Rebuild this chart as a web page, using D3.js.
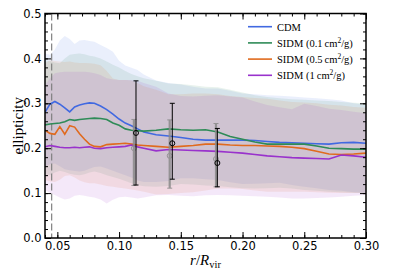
<!DOCTYPE html>
<html>
<head>
<meta charset="utf-8">
<script src="https://cdn.jsdelivr.net/npm/d3@7"></script>
<style>
  body { margin: 0; background: #fff; }
  svg { display: block; }
  .tick text { font-family: "DejaVu Sans", sans-serif; font-size: 11.5px; fill: #000; }
  .serif { font-family: "Liberation Serif", "DejaVu Serif", serif; fill: #000; }
</style>
</head>
<body>
<div id="chart"></div>
<script>
const width = 407;
const height = 271;
const MARGIN = { top: 13.5, right: 41, bottom: 33, left: 45 };

// radial bins r/Rvir
const radius = [0.040, 0.044, 0.048, 0.052, 0.056, 0.060, 0.064, 0.068, 0.072, 0.076,
  0.080, 0.085, 0.090, 0.095, 0.100, 0.105, 0.110, 0.115, 0.120, 0.130,
  0.140, 0.150, 0.160, 0.170, 0.180, 0.190, 0.200, 0.210, 0.220, 0.230,
  0.240, 0.250, 0.260, 0.270, 0.280, 0.290, 0.300];

// median ellipticity
const cdmMean = [0.280, 0.298, 0.304, 0.298, 0.290, 0.281, 0.292, 0.296, 0.299, 0.301,
  0.300, 0.294, 0.286, 0.276, 0.265, 0.256, 0.250, 0.243, 0.236, 0.230,
  0.227, 0.224, 0.220, 0.218, 0.218, 0.218, 0.218, 0.217, 0.215, 0.213,
  0.212, 0.211, 0.210, 0.209, 0.212, 0.213, 0.211];
const sidm01Mean = [0.252, 0.254, 0.255, 0.256, 0.259, 0.264, 0.262, 0.264, 0.265, 0.266,
  0.267, 0.266, 0.264, 0.256, 0.251, 0.243, 0.240, 0.239, 0.238, 0.240,
  0.243, 0.241, 0.240, 0.241, 0.236, 0.226, 0.220, 0.214, 0.209, 0.209,
  0.209, 0.209, 0.205, 0.200, 0.199, 0.198, 0.198];
const sidm05Mean = [0.240, 0.233, 0.231, 0.248, 0.231, 0.250, 0.247, 0.232, 0.220, 0.209,
  0.204, 0.203, 0.208, 0.209, 0.210, 0.211, 0.209, 0.207, 0.206, 0.204,
  0.202, 0.204, 0.206, 0.209, 0.209, 0.207, 0.206, 0.206, 0.205, 0.204,
  0.202, 0.199, 0.193, 0.187, 0.186, 0.187, 0.189];
const sidm1Mean = [0.203, 0.206, 0.204, 0.202, 0.201, 0.201, 0.202, 0.201, 0.202, 0.203,
  0.200, 0.199, 0.201, 0.202, 0.203, 0.204, 0.207, 0.203, 0.200, 0.194,
  0.197, 0.196, 0.195, 0.194, 0.193, 0.191, 0.189, 0.186, 0.183, 0.181,
  0.179, 0.178, 0.177, 0.176, 0.185, 0.183, 0.180];

// scatter envelopes
const cdmHi = [0.411, 0.408, 0.420, 0.440, 0.450, 0.443, 0.432, 0.440, 0.441, 0.439,
  0.437, 0.430, 0.423, 0.415, 0.395, 0.384, 0.379, 0.374, 0.364, 0.351,
  0.345, 0.342, 0.337, 0.333, 0.333, 0.328, 0.322, 0.320, 0.318, 0.317,
  0.315, 0.313, 0.311, 0.309, 0.306, 0.300, 0.296];
const cdmLo = [0.159, 0.164, 0.166, 0.160, 0.153, 0.151, 0.149, 0.148, 0.150, 0.154,
  0.158, 0.159, 0.155, 0.150, 0.145, 0.140, 0.135, 0.128, 0.125, 0.125,
  0.127, 0.133, 0.133, 0.131, 0.129, 0.124, 0.120, 0.121, 0.122, 0.123,
  0.118, 0.114, 0.111, 0.107, 0.105, 0.102, 0.100];
const sidm01Hi = [0.396, 0.394, 0.391, 0.389, 0.400, 0.408, 0.410, 0.411, 0.409, 0.406,
  0.404, 0.400, 0.393, 0.386, 0.380, 0.372, 0.365, 0.360, 0.356, 0.350,
  0.344, 0.343, 0.340, 0.337, 0.336, 0.330, 0.324, 0.318, 0.314, 0.311,
  0.309, 0.308, 0.306, 0.305, 0.303, 0.301, 0.300];
const sidm01Lo = [0.142, 0.140, 0.146, 0.150, 0.147, 0.143, 0.141, 0.140, 0.142, 0.146,
  0.148, 0.145, 0.140, 0.136, 0.132, 0.127, 0.122, 0.118, 0.115, 0.114,
  0.116, 0.120, 0.119, 0.117, 0.116, 0.113, 0.111, 0.110, 0.111, 0.112,
  0.110, 0.107, 0.105, 0.103, 0.102, 0.101, 0.100];
const sidm05Hi = [0.390, 0.396, 0.394, 0.393, 0.392, 0.393, 0.391, 0.390, 0.390, 0.389,
  0.388, 0.385, 0.372, 0.355, 0.352, 0.352, 0.351, 0.345, 0.338, 0.330,
  0.320, 0.320, 0.322, 0.322, 0.320, 0.316, 0.314, 0.312, 0.310, 0.306,
  0.303, 0.302, 0.300, 0.297, 0.295, 0.292, 0.290];
const sidm05Lo = [0.129, 0.126, 0.125, 0.130, 0.138, 0.140, 0.135, 0.128, 0.124, 0.122,
  0.122, 0.119, 0.116, 0.114, 0.112, 0.110, 0.108, 0.106, 0.103, 0.097,
  0.098, 0.100, 0.102, 0.106, 0.110, 0.110, 0.109, 0.106, 0.103, 0.103,
  0.103, 0.103, 0.102, 0.101, 0.100, 0.100, 0.100];
const sidm1Hi = [0.341, 0.355, 0.367, 0.369, 0.370, 0.370, 0.370, 0.370, 0.370, 0.369,
  0.367, 0.363, 0.356, 0.353, 0.352, 0.352, 0.352, 0.350, 0.345, 0.337,
  0.322, 0.316, 0.315, 0.317, 0.318, 0.315, 0.313, 0.304, 0.296, 0.291,
  0.287, 0.299, 0.294, 0.288, 0.285, 0.281, 0.278];
const sidm1Lo = [0.107, 0.100, 0.096, 0.090, 0.086, 0.088, 0.094, 0.096, 0.094, 0.092,
  0.090, 0.086, 0.077, 0.085, 0.091, 0.092, 0.090, 0.088, 0.090, 0.095,
  0.096, 0.094, 0.093, 0.095, 0.096, 0.095, 0.094, 0.093, 0.092, 0.090,
  0.088, 0.088, 0.089, 0.090, 0.092, 0.094, 0.096];

const labels = ['CDM', 'SIDM (0.1', 'SIDM (0.5', 'SIDM (1'];
const colors = ['#4169e1', '#2e8b57', '#e06a1e', '#9932cc'];

// observed points (black) and comparison (gray)
const obsX = [0.1137, 0.1431, 0.1796];
const obsY = [0.234, 0.211, 0.167];
const obsLo = [0.118, 0.131, 0.114];
const obsHi = [0.350, 0.300, 0.244];
const cmpX = [0.1120, 0.1410, 0.1785];
const cmpY = [0.200, 0.183, 0.176];
const cmpLo = [0.117, 0.111, 0.114];
const cmpHi = [0.264, 0.263, 0.255];

const resolutionLimit = 0.0454;

const series = [
  { mean: cdmMean, lo: cdmLo, hi: cdmHi },
  { mean: sidm01Mean, lo: sidm01Lo, hi: sidm01Hi },
  { mean: sidm05Mean, lo: sidm05Lo, hi: sidm05Hi },
  { mean: sidm1Mean, lo: sidm1Lo, hi: sidm1Hi }
];

const w = width - MARGIN.left - MARGIN.right;
const h = height - MARGIN.top - MARGIN.bottom;

const svg = d3.select('#chart').append('svg')
  .attr('width', width)
  .attr('height', height);

const g = svg.append('g')
  .attr('transform', 'translate(' + MARGIN.left + ',' + MARGIN.top + ')');

const x = d3.scaleLinear().domain([0.04, 0.30]).range([0, w]);
const y = d3.scaleLinear().domain([0, 0.5]).range([h, 0]);

g.append('clipPath').attr('id', 'clip')
  .append('rect').attr('width', w).attr('height', h);

const plot = g.append('g').attr('clip-path', 'url(#clip)');

// bands
const area = (s) => d3.area()
  .x((d, i) => x(radius[i]))
  .y0((d, i) => y(s.lo[i]))
  .y1((d, i) => y(s.hi[i]));

series.forEach((s, k) => {
  plot.append('path')
    .datum(radius)
    .attr('d', area(s))
    .attr('fill', colors[k])
    .attr('fill-opacity', 0.11);
});

// dashed resolution line
plot.append('line')
  .attr('x1', x(resolutionLimit)).attr('x2', x(resolutionLimit))
  .attr('y1', 0).attr('y2', h)
  .attr('stroke', '#808080')
  .attr('stroke-width', 1.2)
  .attr('stroke-dasharray', '7,3');

// median lines
series.forEach((s, k) => {
  plot.append('path')
    .datum(s.mean)
    .attr('d', d3.line().x((d, i) => x(radius[i])).y((d) => y(d)))
    .attr('fill', 'none')
    .attr('stroke', colors[k])
    .attr('stroke-width', 1.6);
});

// error bars
function errorBars(xs, ys, lo, hi, color, sw, opacity) {
  const eg = plot.append('g').attr('opacity', opacity);
  xs.forEach((xv, i) => {
    eg.append('line')
      .attr('x1', x(xv)).attr('x2', x(xv))
      .attr('y1', y(lo[i])).attr('y2', y(hi[i]))
      .attr('stroke', color).attr('stroke-width', sw);
    [lo[i], hi[i]].forEach((v) => {
      eg.append('line')
        .attr('x1', x(xv) - 2.5).attr('x2', x(xv) + 2.5)
        .attr('y1', y(v)).attr('y2', y(v))
        .attr('stroke', color).attr('stroke-width', 1);
    });
    eg.append('circle')
      .attr('cx', x(xv)).attr('cy', y(ys[i]))
      .attr('r', 2.5)
      .attr('fill', 'none')
      .attr('stroke', color).attr('stroke-width', 1);
  });
}
errorBars(cmpX, cmpY, cmpLo, cmpHi, '#8a8a8a', 2.2, 0.85);
errorBars(obsX, obsY, obsLo, obsHi, '#000', 1, 1);

// axes with inward ticks on all sides
const majorX = d3.range(0.05, 0.3001, 0.05);
const minorX = d3.range(0.04, 0.3001, 0.01);
const majorY = d3.range(0, 0.5001, 0.1);
const minorY = d3.range(0, 0.5001, 0.02);

g.append('g')
  .attr('class', 'x axis')
  .attr('transform', 'translate(0,' + h + ')')
  .call(d3.axisBottom(x).tickValues(majorX).tickSize(-6).tickPadding(4).tickFormat(d3.format('.2f')))
  .call((a) => a.select('.domain').remove());
g.append('g')
  .attr('transform', 'translate(0,' + h + ')')
  .call(d3.axisBottom(x).tickValues(minorX).tickSize(-3).tickFormat(''))
  .call((a) => a.select('.domain').remove());
g.append('g')
  .call(d3.axisTop(x).tickValues(majorX).tickSize(-6).tickFormat(''))
  .call((a) => a.select('.domain').remove());
g.append('g')
  .call(d3.axisTop(x).tickValues(minorX).tickSize(-3).tickFormat(''))
  .call((a) => a.select('.domain').remove());

g.append('g')
  .attr('class', 'y axis')
  .call(d3.axisLeft(y).tickValues(majorY).tickSize(-6).tickPadding(3.5).tickFormat(d3.format('.1f')))
  .call((a) => a.select('.domain').remove());
g.append('g')
  .call(d3.axisLeft(y).tickValues(minorY).tickSize(-3).tickFormat(''))
  .call((a) => a.select('.domain').remove());
g.append('g')
  .attr('transform', 'translate(' + w + ',0)')
  .call(d3.axisRight(y).tickValues(majorY).tickSize(-6).tickFormat(''))
  .call((a) => a.select('.domain').remove());
g.append('g')
  .attr('transform', 'translate(' + w + ',0)')
  .call(d3.axisRight(y).tickValues(minorY).tickSize(-3).tickFormat(''))
  .call((a) => a.select('.domain').remove());

g.selectAll('.tick line').attr('stroke', '#000').attr('stroke-width', 1);

g.append('rect')
  .attr('width', w).attr('height', h)
  .attr('fill', 'none')
  .attr('stroke', '#000')
  .attr('stroke-width', 1.5);

// axis labels
svg.append('text')
  .attr('class', 'serif')
  .attr('transform', 'translate(23,' + (MARGIN.top + h / 2) + ') rotate(-90)')
  .attr('text-anchor', 'middle')
  .style('font-size', '15px')
  .text('ellipticity');

const xl = svg.append('text')
  .attr('class', 'serif')
  .attr('x', MARGIN.left + w / 2)
  .attr('y', 265)
  .attr('text-anchor', 'middle')
  .style('font-size', '15px');
xl.append('tspan').style('font-style', 'italic').text('r');
xl.append('tspan').text('/');
xl.append('tspan').style('font-style', 'italic').text('R');
xl.append('tspan').attr('dy', 3).style('font-size', '10.5px').text('vir');

// legend
const legend = g.append('g').attr('transform', 'translate(' + (248 - MARGIN.left) + ',' + (26.7 - MARGIN.top) + ')');
labels.forEach((lab, k) => {
  const row = legend.append('g').attr('transform', 'translate(0,' + k * 16.2 + ')');
  row.append('line')
    .attr('x1', 0).attr('x2', 24)
    .attr('stroke', colors[k]).attr('stroke-width', 1.6);
  const t = row.append('text')
    .attr('class', 'serif')
    .attr('x', 29).attr('y', 3.8)
    .style('font-size', '10.5px')
    .text(lab);
  if (k > 0) {
    t.append('tspan').text('\u2009cm');
    t.append('tspan').attr('dy', -4).style('font-size', '7.5px').text('2');
    t.append('tspan').attr('dy', 4).text('/g)');
  }
});
</script>
</body>
</html>
